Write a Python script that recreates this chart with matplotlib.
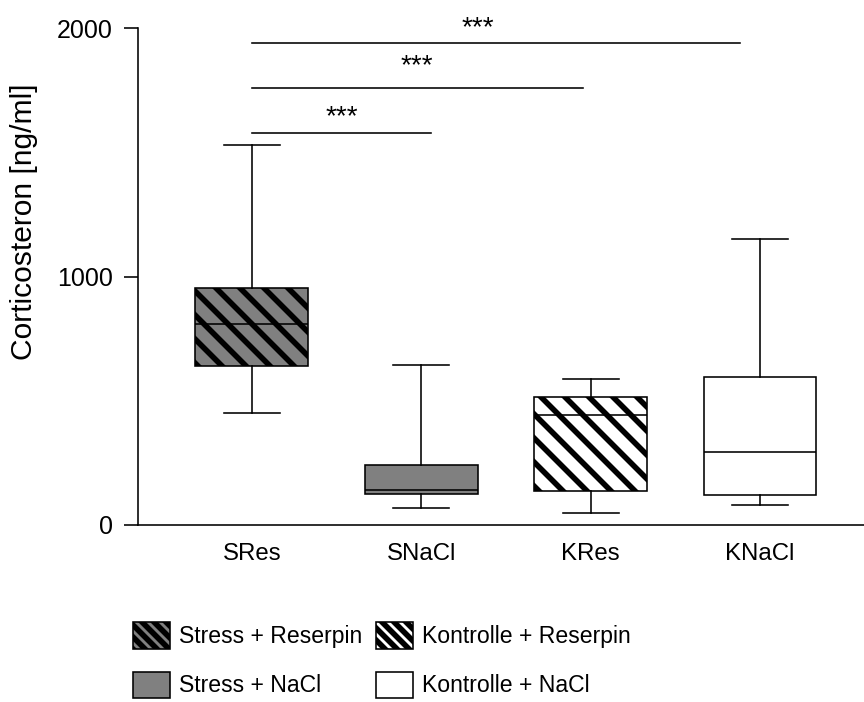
import matplotlib
matplotlib.use("Agg")
import matplotlib.pyplot as plt
from matplotlib.patches import Patch

# --- data ---
groups = ["SRes", "SNaCl", "KRes", "KNaCl"]
whis_lo = [451, 70, 48, 82]
q1 = [640, 125, 137, 122]
median = [809, 141, 443, 294]
q3 = [954, 241, 515, 596]
whis_hi = [1529, 644, 588, 1151]

fills = ["#808080", "#808080", "white", "white"]
hatches = ["\\\\", "", "\\\\", ""]

legend_labels = ["Stress + Reserpin", "Stress + NaCl",
                 "Kontrolle + Reserpin", "Kontrolle + NaCl"]
legend_fills = ["#808080", "#808080", "white", "white"]
legend_hatches = ["\\\\\\\\", "", "\\\\\\\\", ""]

# significance brackets: start group, end position, height, star x, star baseline
sig_start = [1.0, 1.0, 1.0]
sig_end = [2.06, 2.955, 3.88]
sig_y = [1577, 1759, 1940]
star_x = [1.53, 1.975, 2.335]
star_y = [1612, 1818, 1970]

plt.rcParams["font.family"] = ["Liberation Sans", "DejaVu Sans"]
plt.rcParams["hatch.linewidth"] = 2.8
plt.rcParams["hatch.color"] = "black"

fig = plt.figure(figsize=(6, 4.875), dpi=144)
ax = fig.add_axes([138 / 864, 1 - 525 / 702, (864 - 138) / 864, 497 / 702])

stats = []
for i, g in enumerate(groups):
    stats.append(dict(label=g, whislo=whis_lo[i], q1=q1[i], med=median[i],
                      q3=q3[i], whishi=whis_hi[i], fliers=[]))

lw = 0.8
bp = ax.bxp(stats, positions=range(1, len(groups) + 1), widths=0.667,
            capwidths=0.33, patch_artist=True, showfliers=False,
            boxprops=dict(linewidth=lw, edgecolor="black"),
            whiskerprops=dict(linewidth=lw, color="black"),
            capprops=dict(linewidth=lw, color="black"),
            medianprops=dict(linewidth=lw, color="black"))
for box, fc, h in zip(bp["boxes"], fills, hatches):
    box.set_facecolor(fc)
    box.set_hatch(h)

for x0, x1, y, sx, sy in zip(sig_start, sig_end, sig_y, star_x, star_y):
    ax.plot([x0, x1], [y, y], color="black", linewidth=lw, clip_on=False)
    ax.text(sx, sy, "***", ha="center", va="baseline", fontsize=14,
            clip_on=False)

ax.set_xlim(0.327, 4.614)
ax.set_ylim(0, 2000)
ax.set_yticks([0, 1000, 2000])
ax.tick_params(axis="y", length=7, width=lw, pad=5.5, labelsize=12.5)
ax.tick_params(axis="x", length=0, pad=9, labelsize=12)
ax.spines["top"].set_visible(False)
ax.spines["right"].set_visible(False)
ax.spines["left"].set_linewidth(lw)
ax.spines["bottom"].set_linewidth(lw)

fig.text(24 / 864, 1 - 222 / 702, "Corticosteron [ng/ml]", rotation=90,
         ha="center", va="center", fontsize=15)

handles = [Patch(facecolor=fc, edgecolor="black", hatch=h, linewidth=lw)
           for fc, h in zip(legend_fills, legend_hatches)]
fig.legend(handles, legend_labels, ncol=2, frameon=False, fontsize=11.5,
           loc="upper left", bbox_to_anchor=(133 / 864, 1 - 622 / 702),
           borderpad=0, borderaxespad=0, handlelength=1.6,
           handleheight=1.4, handletextpad=0.4, labelspacing=1.0,
           columnspacing=0.6)

fig.savefig("out.png", dpi=144)
